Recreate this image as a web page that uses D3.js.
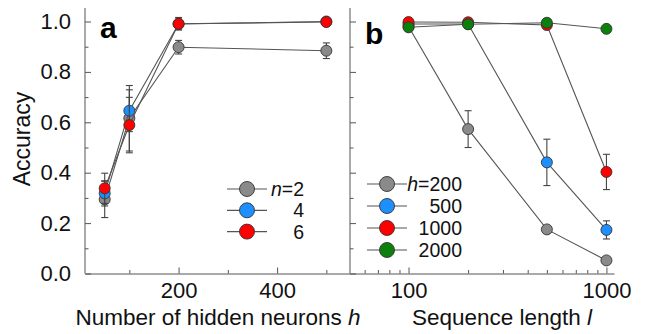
<!DOCTYPE html>
<html>
<head>
<meta charset="utf-8">
<script src="https://cdn.jsdelivr.net/npm/d3@7"></script>
<style>
  body { margin: 0; background: #fff; }
  svg { display: block; font-family: Arial, "Liberation Sans", sans-serif; }
  .axis path, .axis line { stroke: #555; }
  .axis text { fill: #111; }
</style>
</head>
<body>
<svg id="chart" width="648" height="334"></svg>
<script>
// panel a: accuracy vs number of hidden neurons
const neurons = [50, 100, 200, 500];
const accN2 = [0.294, 0.616, 0.898, 0.884];
const errN2 = [0.072, 0.13, 0.027, 0.031];
const accN4 = [0.318, 0.646, 0.99, 1.0];
const errN4 = [0.05, 0.083, 0.02, 0.005];
const accN6 = [0.338, 0.589, 0.991, 0.998];
const errN6 = [0.06, 0.11, 0.025, 0.005];
const legendA = ["2", "4", "6"];

// panel b: accuracy vs sequence length
const seqLength = [100, 200, 500, 1000];
const accH200 = [0.98, 0.573, 0.175, 0.052];
const errH200 = [0.008, 0.073, 0.01, 0.01];
const accH500 = [0.99, 0.99, 0.441, 0.173];
const errH500 = [0.005, 0.005, 0.092, 0.036];
const accH1000 = [0.998, 0.997, 0.986, 0.403];
const errH1000 = [0.004, 0.004, 0.008, 0.07];
const accH2000 = [0.977, 0.989, 0.995, 0.971];
const errH2000 = [0.005, 0.005, 0.005, 0.006];
const legendB = ["200", "500", "1000", "2000"];

const yTicks = [0, 0.2, 0.4, 0.6, 0.8, 1.0];
const yMinor = [0.1, 0.3, 0.5, 0.7, 0.9];
const xTicksA = [200, 400];
const xMinorA = [100, 300, 500];
const xTicksB = [100, 1000];
const xMinorB = [60, 70, 80, 90, 200, 300, 400, 500, 600, 700, 800, 900];

const colors = ["#8a8a8a", "#1e8fff", "#ff0000", "#0b800b"];

const svg = d3.select("#chart");

const y = d3.scaleLinear().domain([0, 1]).range([273.5, 21.5]);
const yTop = 8;
const xa = d3.scaleLinear().domain([10, 548]).range([85, 350]);
const xb = d3.scaleLog().domain([50.6, 1092]).range([350, 614]);

function drawYAxis(x0, labels) {
  svg.append("g").attr("class", "axis")
    .attr("transform", "translate(" + x0 + ",0)")
    .call(d3.axisLeft(y).tickValues(yTicks).tickSizeInner(-6).tickSizeOuter(0)
      .tickPadding(14).tickFormat(labels ? d3.format(".1f") : ""))
    .call(g => g.select(".domain").attr("d", "M0," + yTop + "V" + y(0)))
    .selectAll("text").style("font-size", "22px");
  svg.append("g").attr("class", "axis")
    .attr("transform", "translate(" + x0 + ",0)")
    .call(d3.axisLeft(y).tickValues(yMinor).tickSizeInner(-3.5).tickSizeOuter(0).tickFormat(""))
    .call(g => g.select(".domain").remove());
}

function drawXAxis(scale, major, minor, fmt) {
  svg.append("g").attr("class", "axis")
    .attr("transform", "translate(0," + y(0) + ")")
    .call(d3.axisBottom(scale).tickValues(major).tickSizeInner(-6).tickSizeOuter(0)
      .tickPadding(9).tickFormat(fmt))
    .selectAll("text").style("font-size", "22px");
  svg.append("g").attr("class", "axis")
    .attr("transform", "translate(0," + y(0) + ")")
    .call(d3.axisBottom(scale).tickValues(minor).tickSizeInner(-3.5).tickSizeOuter(0).tickFormat(""))
    .call(g => g.select(".domain").remove());
}

drawYAxis(85, true);
drawYAxis(350, false);
drawXAxis(xa, xTicksA, xMinorA, d3.format("d"));
drawXAxis(xb, xTicksB, xMinorB, d3.format("d"));

function drawSeries(xs, xScale, acc, err) {
  const pts = xs.map((v, i) => ({ x: v, y: acc[i], e: err[i] }));
  const line = d3.line().x(d => xScale(d.x)).y(d => y(d.y));
  svg.append("path").datum(pts)
    .attr("d", line)
    .attr("fill", "none")
    .attr("stroke", "#555")
    .attr("stroke-width", 1.1);
  const eb = svg.append("g").attr("stroke", "#444").attr("stroke-width", 1.1);
  pts.forEach(d => {
    const cx = xScale(d.x);
    eb.append("line").attr("x1", cx).attr("x2", cx).attr("y1", y(d.y - d.e)).attr("y2", y(d.y + d.e));
    eb.append("line").attr("x1", cx - 3.5).attr("x2", cx + 3.5).attr("y1", y(d.y - d.e)).attr("y2", y(d.y - d.e));
    eb.append("line").attr("x1", cx - 3.5).attr("x2", cx + 3.5).attr("y1", y(d.y + d.e)).attr("y2", y(d.y + d.e));
  });
  return pts;
}

function drawMarkers(pts, xScale, color) {
  svg.append("g").selectAll("circle").data(pts).join("circle")
    .attr("cx", d => xScale(d.x))
    .attr("cy", d => y(d.y))
    .attr("r", 5.5)
    .attr("fill", color)
    .attr("stroke", "#333")
    .attr("stroke-width", 0.9);
}

// panel a
const seriesA = [[accN2, errN2], [accN4, errN4], [accN6, errN6]];
seriesA.forEach((s, i) => {
  const pts = drawSeries(neurons, xa, s[0], s[1]);
  drawMarkers(pts, xa, colors[i]);
});

// panel b
const seriesB = [[accH200, errH200], [accH500, errH500], [accH1000, errH1000], [accH2000, errH2000]];
seriesB.forEach((s, i) => {
  const pts = drawSeries(seqLength, xb, s[0], s[1]);
  drawMarkers(pts, xb, colors[i]);
});

// legends
function drawLegend(labels, varName, lx, ly, dy, textRight) {
  labels.forEach((lab, i) => {
    const yy = ly + i * dy;
    svg.append("line").attr("x1", lx - 20).attr("x2", lx + 20).attr("y1", yy).attr("y2", yy)
      .attr("stroke", "#555").attr("stroke-width", 1.2);
    svg.append("circle").attr("cx", lx).attr("cy", yy).attr("r", 7.5)
      .attr("fill", colors[i]).attr("stroke", "#333").attr("stroke-width", 0.9);
    const t = svg.append("text").attr("x", textRight).attr("y", yy + 7)
      .attr("text-anchor", "end").style("font-size", "19.5px").attr("fill", "#111");
    if (i === 0) {
      t.append("tspan").style("font-style", "italic").text(varName);
      t.append("tspan").text("=" + lab);
    } else {
      t.text(lab);
    }
  });
}
drawLegend(legendA, "n", 247, 189, 21.3, 304);
drawLegend(legendB, "h", 387, 184, 22, 462);

// panel letters
svg.append("text").attr("x", 100).attr("y", 37.5).style("font-size", "30px")
  .style("font-weight", "bold").text("a");
svg.append("text").attr("x", 365).attr("y", 44).style("font-size", "30px")
  .style("font-weight", "bold").text("b");

// axis titles
svg.append("text").attr("transform", "translate(30,139) rotate(-90)")
  .attr("text-anchor", "middle").style("font-size", "23px").attr("fill", "#111").text("Accuracy");

const tA = svg.append("text").attr("x", 218).attr("y", 325).attr("text-anchor", "middle")
  .style("font-size", "22.5px").attr("fill", "#111");
tA.append("tspan").text("Number of hidden neurons ");
tA.append("tspan").style("font-style", "italic").text("h");

const tB = svg.append("text").attr("x", 502).attr("y", 325).attr("text-anchor", "middle")
  .style("font-size", "22.5px").attr("fill", "#111");
tB.append("tspan").text("Sequence length ");
tB.append("tspan").style("font-style", "italic").text("l");
</script>
</body>
</html>
